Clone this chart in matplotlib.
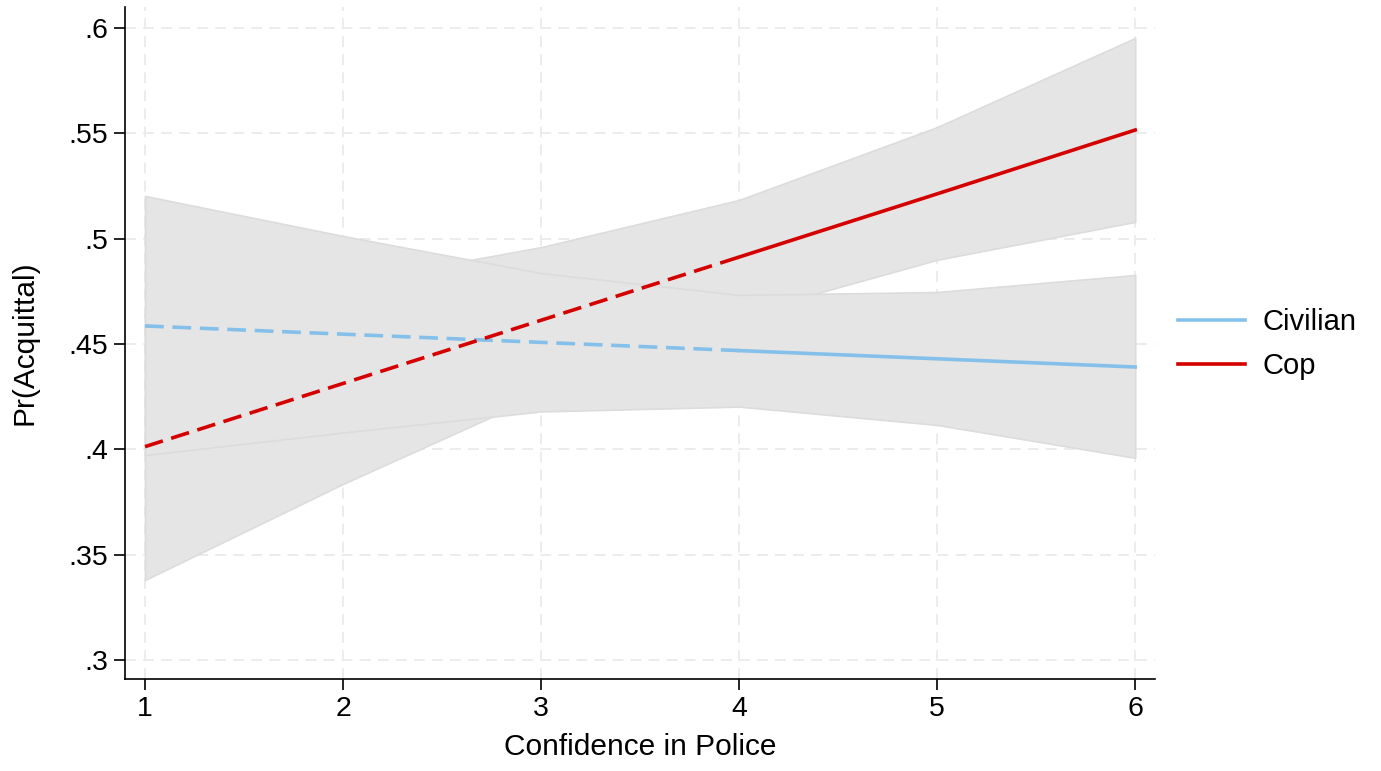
import numpy as np
import matplotlib.pyplot as plt
import matplotlib as mpl

mpl.rcParams['font.family'] = ['Liberation Sans', 'DejaVu Sans']

# confidence levels
conf = [1, 2, 3, 4, 5, 6]

# predicted probabilities and 95% CI
civ_mean = [0.4586, 0.4547, 0.4508, 0.4469, 0.4430, 0.4391]
civ_lo = [0.3973, 0.4080, 0.4180, 0.4203, 0.4116, 0.3960]
civ_hi = [0.5203, 0.5013, 0.4837, 0.4733, 0.4747, 0.4828]

cop_mean = [0.4013, 0.4313, 0.4613, 0.4913, 0.5213, 0.5516]
cop_lo = [0.3380, 0.3836, 0.4260, 0.4638, 0.4900, 0.5080]
cop_hi = [0.4646, 0.4790, 0.4960, 0.5184, 0.5530, 0.5953]

civ_col = '#85C0EA'
cop_col = '#D40000'
band_col = '#E5E5E5'

fig = plt.figure(figsize=(13.81, 7.71), dpi=100)
ax = fig.add_axes([125/1381, 1 - 679/771, 1030/1381, 672/771])

# cop band underneath, civilian band drawn over it
for lo, hi in [(cop_lo, cop_hi), (civ_lo, civ_hi)]:
    ax.fill_between(conf, lo, hi, facecolor=band_col, edgecolor='#DCDCDC', linewidth=1.2, zorder=2)

x = np.array(conf)
# dashed up to 4, solid after
for mean, col, lab in [(civ_mean, civ_col, 'Civilian'), (cop_mean, cop_col, 'Cop')]:
    m = np.array(mean)
    ax.plot(x[:4], m[:4], color=col, lw=2.6, ls=(0, (5.2, 2.4)), zorder=3)
    ax.plot(x[3:], m[3:], color=col, lw=2.6, zorder=3, label=lab)

ax.set_xlim(0.899, 6.10)
ax.set_ylim(0.291, 0.61)
ax.set_xticks(conf)
yt = [0.3, 0.35, 0.4, 0.45, 0.5, 0.55, 0.6]
ax.set_yticks(yt)
ax.set_yticklabels([('%g' % v).lstrip('0') for v in yt])

ax.grid(True, color='#EBEBEB', ls=(0, (6, 4)), lw=1.3, zorder=0)
ax.set_axisbelow(True)
for s in ['top', 'right']:
    ax.spines[s].set_visible(False)
for s in ['left', 'bottom']:
    ax.spines[s].set_linewidth(1.2)
ax.tick_params(labelsize=20.5, length=8, width=1.2, pad=4)

ax.set_xlabel('Confidence in Police', fontsize=21.5, labelpad=8)
ax.set_ylabel('Pr(Acquittal)', fontsize=21.5, labelpad=22)

ax.legend(loc='center left', bbox_to_anchor=(1.0223, 0.4985), frameon=False, fontsize=21,
          handlelength=2.3, handletextpad=0.6, labelspacing=0.55,
          borderpad=0, borderaxespad=0)

fig.savefig('out.png', dpi=100)
